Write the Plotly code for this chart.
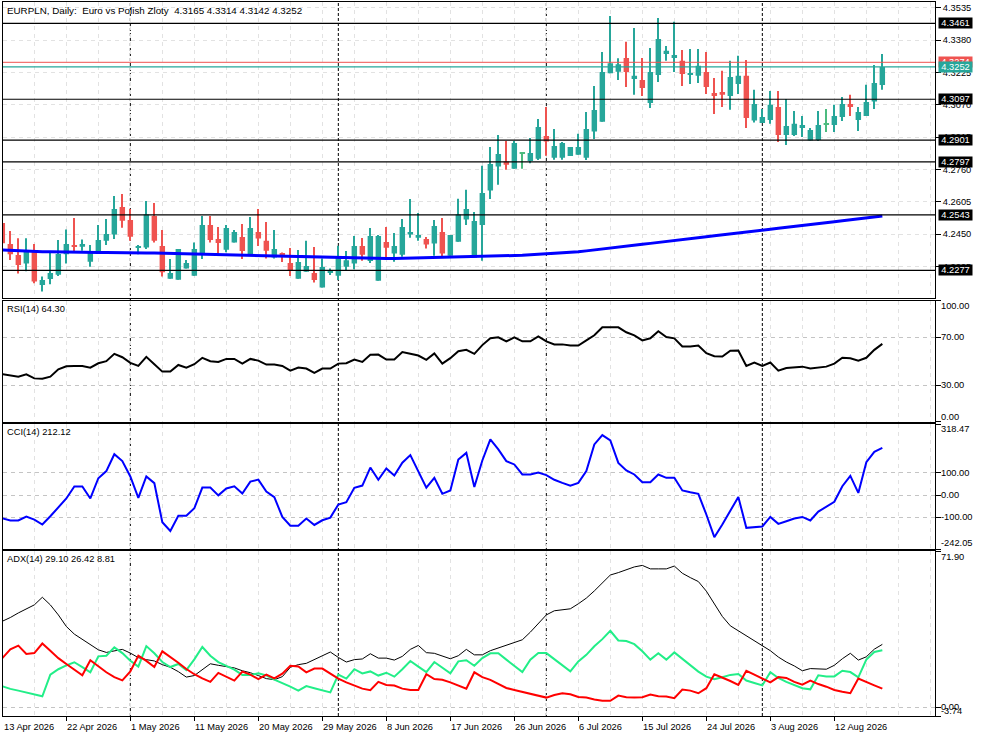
import plotly.graph_objects as go

# ---------------- data ----------------
date_tick_labels = ["13 Apr 2026", "22 Apr 2026", "1 May 2026", "11 May 2026", "20 May 2026",
                    "29 May 2026", "8 Jun 2026", "17 Jun 2026", "26 Jun 2026", "6 Jul 2026",
                    "15 Jul 2026", "24 Jul 2026", "3 Aug 2026", "12 Aug 2026"]
date_tick_bars = [0, 8, 16, 24, 32, 40, 48, 56, 64, 72, 80, 88, 96, 104]
month_start_bars = [16, 42, 68, 95]

open_ = [4.2504, 4.2403, 4.2350, 4.2309, 4.2366, 4.2207, 4.2235, 4.2255, 4.2354, 4.2398,
         4.2390, 4.2318, 4.2363, 4.2419, 4.2448, 4.2580, 4.2518, 4.2386, 4.2386, 4.2537,
         4.2394, 4.2237, 4.2232, 4.2285, 4.2251, 4.2354, 4.2494, 4.2427, 4.2376, 4.2410,
         4.2437, 4.2355, 4.2461, 4.2418, 4.2338, 4.2360, 4.2312, 4.2237, 4.2270, 4.2264,
         4.2194, 4.2266, 4.2251, 4.2294, 4.2309, 4.2393, 4.2321, 4.2227, 4.2413, 4.2357,
         4.2352, 4.2448, 4.2433, 4.2427, 4.2405, 4.2461, 4.2347, 4.2414, 4.2520, 4.2337,
         4.2494, 4.2659, 4.2774, 4.2798, 4.2764, 4.2838, 4.2801, 4.2812, 4.2921, 4.2817,
         4.2817, 4.2825, 4.2831, 4.2817, 4.2942, 4.2989, 4.3222, 4.3229, 4.3295, 4.3194,
         4.3189, 4.3079, 4.3213, 4.3314, 4.3295, 4.3281, 4.3213, 4.3209, 4.3228, 4.3127,
         4.3132, 4.3113, 4.3170, 4.3209, 4.2995, 4.2983, 4.2998, 4.3060, 4.2926, 4.2926,
         4.2959, 4.2899, 4.2902, 4.2979, 4.2974, 4.3012, 4.3074, 4.2998, 4.3017, 4.3086,
         4.3165]
high = [4.2512, 4.2465, 4.2430, 4.2430, 4.2403, 4.2247, 4.2363, 4.2422, 4.2473, 4.2528,
        4.2425, 4.2398, 4.2494, 4.2523, 4.2633, 4.2643, 4.2571, 4.2398, 4.2609, 4.2600,
        4.2470, 4.2331, 4.2379, 4.2326, 4.2410, 4.2537, 4.2537, 4.2485, 4.2494, 4.2470,
        4.2499, 4.2533, 4.2571, 4.2509, 4.2470, 4.2362, 4.2384, 4.2374, 4.2418, 4.2389,
        4.2333, 4.2286, 4.2395, 4.2369, 4.2441, 4.2432, 4.2480, 4.2446, 4.2485, 4.2456,
        4.2523, 4.2619, 4.2552, 4.2437, 4.2518, 4.2528, 4.2446, 4.2620, 4.2663, 4.2556,
        4.2778, 4.2868, 4.2926, 4.2897, 4.2897, 4.2840, 4.2911, 4.3002, 4.3060, 4.2954,
        4.2892, 4.2868, 4.2932, 4.3036, 4.3161, 4.3324, 4.3496, 4.3294, 4.3372, 4.3439,
        4.3295, 4.3343, 4.3487, 4.3352, 4.3468, 4.3333, 4.3338, 4.3338, 4.3324, 4.3199,
        4.3233, 4.3281, 4.3305, 4.3285, 4.3142, 4.3050, 4.3137, 4.3137, 4.3098, 4.3041,
        4.3017, 4.2959, 4.3041, 4.3050, 4.3070, 4.3108, 4.3118, 4.3060, 4.3166, 4.3261,
        4.3314]
low = [4.2400, 4.2326, 4.2262, 4.2272, 4.2215, 4.2175, 4.2210, 4.2250, 4.2309, 4.2366,
       4.2371, 4.2294, 4.2358, 4.2398, 4.2427, 4.2481, 4.2419, 4.2354, 4.2379, 4.2410,
       4.2247, 4.2237, 4.2232, 4.2285, 4.2251, 4.2331, 4.2410, 4.2354, 4.2363, 4.2410,
       4.2331, 4.2350, 4.2394, 4.2333, 4.2333, 4.2317, 4.2250, 4.2237, 4.2270, 4.2218,
       4.2194, 4.2254, 4.2230, 4.2275, 4.2282, 4.2323, 4.2312, 4.2227, 4.2337, 4.2318,
       4.2342, 4.2433, 4.2419, 4.2381, 4.2347, 4.2342, 4.2347, 4.2414, 4.2494, 4.2337,
       4.2323, 4.2619, 4.2687, 4.2759, 4.2764, 4.2764, 4.2790, 4.2806, 4.2826, 4.2807,
       4.2807, 4.2825, 4.2831, 4.2806, 4.2906, 4.2989, 4.3222, 4.3189, 4.3156, 4.3118,
       4.3113, 4.3055, 4.3180, 4.3281, 4.3228, 4.3161, 4.3170, 4.3175, 4.3122, 4.3026,
       4.3060, 4.3046, 4.3122, 4.2959, 4.2985, 4.2983, 4.2979, 4.2892, 4.2878, 4.2921,
       4.2916, 4.2899, 4.2897, 4.2940, 4.2940, 4.2993, 4.3017, 4.2945, 4.3017, 4.3050,
       4.3142]
close = [4.2406, 4.2354, 4.2302, 4.2366, 4.2223, 4.2231, 4.2264, 4.2355, 4.2403, 4.2390,
         4.2403, 4.2360, 4.2422, 4.2451, 4.2571, 4.2515, 4.2438, 4.2389, 4.2544, 4.2418,
         4.2267, 4.2264, 4.2379, 4.2312, 4.2379, 4.2494, 4.2422, 4.2408, 4.2480, 4.2461,
         4.2370, 4.2480, 4.2429, 4.2371, 4.2379, 4.2346, 4.2277, 4.2317, 4.2298, 4.2231,
         4.2293, 4.2275, 4.2338, 4.2325, 4.2393, 4.2352, 4.2441, 4.2441, 4.2385, 4.2393,
         4.2485, 4.2461, 4.2446, 4.2400, 4.2489, 4.2357, 4.2446, 4.2544, 4.2571, 4.2513,
         4.2648, 4.2786, 4.2834, 4.2783, 4.2887, 4.2839, 4.2839, 4.2964, 4.2894, 4.2873,
         4.2887, 4.2868, 4.2868, 4.2954, 4.3045, 4.3227, 4.3270, 4.3265, 4.3228, 4.3209,
         4.3151, 4.3228, 4.3386, 4.3329, 4.3309, 4.3218, 4.3223, 4.3257, 4.3156, 4.3113,
         4.3118, 4.3204, 4.3209, 4.3007, 4.3074, 4.3012, 4.3070, 4.2926, 4.2969, 4.2979,
         4.2974, 4.2950, 4.2974, 4.2980, 4.3017, 4.3074, 4.3060, 4.3036, 4.3084, 4.3175,
         4.3252]
ma_line = [4.2374, 4.2372, 4.2371, 4.2370, 4.2368, 4.2366, 4.2366, 4.2365, 4.2363, 4.2362,
           4.2362, 4.2362, 4.2362, 4.2362, 4.2361, 4.2361, 4.2361, 4.2361, 4.2360, 4.2360,
           4.2359, 4.2357, 4.2357, 4.2356, 4.2356, 4.2355, 4.2354, 4.2353, 4.2353, 4.2352,
           4.2351, 4.2348, 4.2347, 4.2346, 4.2345, 4.2343, 4.2342, 4.2341, 4.2340, 4.2340,
           4.2338, 4.2337, 4.2337, 4.2336, 4.2334, 4.2333, 4.2333, 4.2333, 4.2333, 4.2333,
           4.2334, 4.2335, 4.2336, 4.2337, 4.2337, 4.2337, 4.2338, 4.2338, 4.2339, 4.2340,
           4.2341, 4.2342, 4.2343, 4.2345, 4.2347, 4.2349, 4.2351, 4.2353, 4.2356, 4.2358,
           4.2361, 4.2363, 4.2366, 4.2370, 4.2375, 4.2379, 4.2384, 4.2388, 4.2393, 4.2397,
           4.2402, 4.2406, 4.2411, 4.2415, 4.2420, 4.2424, 4.2429, 4.2433, 4.2438, 4.2442,
           4.2447, 4.2451, 4.2456, 4.2460, 4.2465, 4.2469, 4.2474, 4.2478, 4.2483, 4.2487,
           4.2492, 4.2496, 4.2501, 4.2505, 4.2510, 4.2514, 4.2519, 4.2523, 4.2528, 4.2532,
           4.2537]
level_lines = [4.3461, 4.3097, 4.2901, 4.2797, 4.2543, 4.2277]
ask_price = 4.3274
bid_price = 4.3252
price_ticks = [4.2295, 4.2450, 4.2605, 4.2760, 4.2915, 4.3070, 4.3225, 4.3380, 4.3535]

rsi = [39.4, 38.3, 37.2, 39.1, 35.8, 35.5, 37.2, 43.3, 45.8, 46.1, 46.1, 44.7, 48.3, 50.0, 56.1,
       53.3, 48.6, 46.1, 53.6, 47.5, 41.4, 41.4, 46.9, 44.7, 47.5, 52.8, 50.0, 49.4, 51.9, 51.9,
       48.0, 51.9, 50.5, 47.2, 47.2, 46.1, 42.2, 44.7, 43.9, 40.3, 43.9, 43.9, 48.0, 48.3, 51.4,
       49.4, 55.3, 55.5, 51.4, 51.4, 57.5, 56.1, 54.7, 51.1, 56.4, 48.0, 52.5, 58.3, 59.4, 56.1,
       63.3, 68.9, 69.7, 66.4, 69.7, 66.4, 66.4, 70.5, 66.4, 63.9, 63.9, 63.0, 63.0, 67.2, 71.4,
       78.0, 78.0, 78.0, 73.9, 71.4, 67.2, 68.9, 74.7, 70.0, 68.9, 62.2, 62.2, 63.0, 56.6, 54.1,
       53.9, 58.6, 58.9, 46.1, 48.9, 46.1, 48.9, 42.2, 44.4, 44.7, 45.5, 43.9, 44.7, 45.5, 48.0,
       52.8, 52.5, 50.5, 52.8, 59.4, 64.30]
cci = [-104, -114, -114, -96, -110, -132, -95, -54, -15, 39, 39, -15, 76, 108, 184,
       153, 84, -12, 84, 54, -122, -161, -93, -93, -59, 34, 34, -1, 30, 40,
       7, 61, 70, 16, -9, -98, -137, -137, -105, -134, -113, -101, -42, -32, 33,
       43, 124, 69, 120, 88, 146, 180, 108, 34, 78, 6, 21, 160, 190, 37,
       156, 251, 206, 153, 138, 93, 93, 102, 90, 69, 55, 42, 55, 108, 228,
       270, 246, 145, 111, 93, 58, 58, 93, 78, 78, 21, 13, 6, -87, -189,
       -132, -68, -8, -147, -144, -141, -98, -129, -117, -105, -98, -114, -74, -51, -30,
       40, 87, 10, 148, 195, 212.12]
adx = [39.7, 41.4, 43.5, 45.5, 47.2, 50.7, 47.2, 42.6, 37.3, 33.8, 31.4, 29.4, 26.6, 25.4, 26.2,
       26.8, 25.1, 23.0, 22.1, 21.5, 19.8, 18.6, 16.6, 14.1, 14.8, 17.6, 20.2, 19.5, 19.0, 18.3,
       17.0, 16.1, 14.8, 13.4, 12.9, 14.3, 18.6, 19.8, 20.4, 22.1, 24.0, 25.6, 23.1, 21.0, 22.1,
       22.4, 24.8, 22.8, 22.8, 21.9, 23.6, 26.8, 28.6, 25.3, 25.0, 23.9, 22.5, 23.9, 26.8, 24.3,
       24.3, 26.2, 27.5, 28.9, 30.1, 31.2, 34.7, 38.7, 42.6, 44.5, 44.9, 45.4, 47.7, 50.3, 53.6,
       57.4, 60.9, 62.0, 63.2, 64.6, 65.3, 63.7, 63.7, 63.7, 65.0, 61.7, 59.7, 57.9, 53.5, 47.5,
       41.9, 37.6, 35.3, 33.2, 30.8, 28.2, 26.2, 23.3, 21.0, 19.2, 17.0, 18.0, 17.7, 17.7, 19.5,
       22.5, 25.0, 21.9, 23.4, 26.9, 29.10]
plus_di = [9.9, 8.7, 7.9, 7.1, 6.4, 5.3, 15.2, 17.7, 19.5, 20.9, 18.7, 16.3, 23.6, 23.9, 27.7,
           25.1, 21.6, 18.9, 28.3, 25.0, 21.0, 18.7, 20.1, 17.3, 22.2, 27.9, 23.9, 21.0, 19.2, 17.5,
           15.1, 15.1, 15.8, 14.9, 12.9, 11.4, 9.7, 7.9, 10.0, 9.0, 8.2, 7.1, 15.2, 13.4, 17.7,
           15.8, 16.7, 14.8, 16.1, 14.3, 17.7, 21.5, 18.9, 16.4, 21.0, 18.6, 15.8, 21.3, 21.8, 19.3,
           22.8, 25.0, 25.0, 22.1, 19.3, 16.4, 22.1, 25.1, 25.1, 22.4, 19.3, 16.7, 21.3, 24.3, 28.2,
           31.5, 35.3, 30.9, 30.6, 29.2, 25.9, 22.1, 25.0, 22.1, 25.4, 22.4, 19.5, 16.6, 14.3, 13.1,
           14.0, 15.1, 15.5, 12.5, 11.4, 10.3, 16.3, 13.7, 11.9, 10.3, 9.0, 8.5, 14.9, 14.4, 14.4,
           17.0, 16.4, 14.0, 22.1, 25.6, 26.42]
minus_di = [22.8, 26.8, 28.5, 24.7, 25.1, 29.5, 26.2, 22.8, 20.1, 17.7, 14.9, 21.8, 18.9, 16.3, 14.1,
            12.6, 16.7, 23.9, 21.5, 18.7, 25.9, 23.4, 20.7, 17.8, 15.4, 13.5, 11.9, 16.0, 14.1, 12.5,
            16.6, 15.2, 13.2, 15.2, 13.5, 15.7, 19.3, 19.0, 16.3, 18.0, 18.0, 15.8, 13.4, 11.7, 10.2,
            8.8, 8.1, 11.9, 10.5, 10.2, 8.8, 8.2, 8.2, 15.4, 13.2, 12.9, 11.7, 10.2, 8.8, 16.3,
            14.1, 12.8, 11.1, 9.1, 8.2, 7.3, 6.4, 5.5, 4.7, 5.9, 6.7, 6.2, 5.0, 4.7, 3.8,
            3.3, 3.2, 5.6, 4.9, 4.7, 4.9, 6.1, 5.3, 5.2, 4.4, 8.4, 7.9, 6.7, 9.0, 15.4,
            14.0, 12.3, 10.5, 17.0, 15.2, 13.4, 11.7, 14.1, 13.7, 11.9, 10.6, 12.5, 10.9, 9.7, 8.2,
            7.4, 6.7, 13.4, 12.0, 10.3, 8.81]

rsi_levels = [0, 30, 70, 100]
cci_min, cci_max = -242.05, 318.47
cci_levels = [-100, 0, 100]
adx_min, adx_max = -3.74, 71.90

# ---------------- styling ----------------
BULL = "#26a69a"
BEAR = "#ef5350"
DOJI = "#4cbb7f"
FONT = "Liberation Sans, Arial, sans-serif"
FS = 9.3
GRID = "#e2e2e2"
LEVEL_GRID = "#c4c4c4"

n = len(close)
xs = list(range(n))

body_base, body_h, colors = [], [], []
for o, c in zip(open_, close):
    lo_b, hi_b = min(o, c), max(o, c)
    h = max(hi_b - lo_b, 0.0005)
    body_base.append(lo_b if hi_b - lo_b >= 0.0005 else (o + c) / 2 - 0.00025)
    body_h.append(h)
    if abs(c - o) < 0.00015:
        colors.append(DOJI)
    elif c >= o:
        colors.append(BULL)
    else:
        colors.append(BEAR)
wick_h = [h - l for h, l in zip(high, low)]

fig = go.Figure()
fig.add_trace(go.Bar(x=xs, y=wick_h, base=low, width=0.14, marker=dict(color=colors, line=dict(width=0)),
                     xaxis="x", yaxis="y", hoverinfo="skip"))
fig.add_trace(go.Bar(x=xs, y=body_h, base=body_base, width=0.68, marker=dict(color=colors, line=dict(width=0)),
                     xaxis="x", yaxis="y", hoverinfo="skip"))
fig.add_trace(go.Scatter(x=xs, y=ma_line, mode="lines", line=dict(color="#0000ff", width=3),
                         xaxis="x", yaxis="y"))
fig.add_trace(go.Scatter(x=xs, y=rsi, mode="lines", line=dict(color="black", width=2),
                         xaxis="x2", yaxis="y2"))
fig.add_trace(go.Scatter(x=xs, y=cci, mode="lines", line=dict(color="#0000ff", width=2),
                         xaxis="x3", yaxis="y3"))
fig.add_trace(go.Scatter(x=xs, y=adx, mode="lines", line=dict(color="black", width=1),
                         xaxis="x4", yaxis="y4"))
fig.add_trace(go.Scatter(x=xs, y=plus_di, mode="lines", line=dict(color="#22ee88", width=2),
                         xaxis="x4", yaxis="y4"))
fig.add_trace(go.Scatter(x=xs, y=minus_di, mode="lines", line=dict(color="#ff0000", width=2),
                         xaxis="x4", yaxis="y4"))

# ---------------- layout ----------------
W, H = 983, 737
ML, MR, MT, MB = 3, 48, 2, 21
plot_h = H - MT - MB


def frac(px):
    return (H - MB - px) / plot_h


dom_price = [frac(297.7), 1.0]
dom_rsi = [frac(421.7), frac(300.7)]
dom_cci = [frac(549.0), frac(424.3)]
dom_adx = [0.0, frac(551.0)]

x_lo = (3 - 2.33) / 8.0
x_hi = (935 - 2.33) / 8.0
xrange_ = [x_lo, x_hi]
grid_dash = "4px,4px"


def xaxis_common(anchor, bottom=False):
    d = dict(domain=[0, 1], range=xrange_, anchor=anchor, showline=True, linecolor="black",
             linewidth=1, mirror=True, zeroline=False, showgrid=True, gridcolor=GRID,
             griddash=grid_dash, gridwidth=1, fixedrange=True)
    if bottom:
        d.update(tickmode="array", tickvals=date_tick_bars, ticktext=[""] * len(date_tick_bars),
                 ticks="outside", ticklen=4, tickcolor="black",
                 minor=dict(tickmode="linear", tick0=0, dtick=4, showgrid=True, gridcolor=GRID,
                            griddash=grid_dash, ticks=""))
    else:
        d.update(tickmode="linear", tick0=0, dtick=4, showticklabels=False, ticks="")
    return d


def yaxis_common(domain, rng, anchor):
    return dict(domain=domain, range=rng, anchor=anchor, side="right", showline=True,
                linecolor="black", linewidth=1, mirror=True, zeroline=False, ticks="outside",
                ticklen=5, tickcolor="black", fixedrange=True,
                tickfont=dict(family=FONT, size=FS, color="black"))


price_range = [4.3461 - (297.7 - 23.3) / 2086, 4.3461 + (23.3 - 2.0) / 2086]

layout = dict(
    width=W, height=H, margin=dict(l=ML, r=MR, t=MT, b=MB), paper_bgcolor="white",
    plot_bgcolor="white", showlegend=False, barmode="overlay",
    font=dict(family=FONT, size=FS, color="black"),
    xaxis=xaxis_common("y"), xaxis2=xaxis_common("y2"), xaxis3=xaxis_common("y3"),
    xaxis4=xaxis_common("y4", bottom=True),
)
ya = yaxis_common(dom_price, price_range, "x")
ya.update(tickmode="array", tickvals=price_ticks, ticktext=[f"{v:.4f}" for v in price_ticks],
          showgrid=True, gridcolor=GRID, griddash=grid_dash)
layout["yaxis"] = ya
ya2 = yaxis_common(dom_rsi, [0, 100], "x2")
ya2.update(tickmode="array", tickvals=rsi_levels, showticklabels=False, showgrid=True,
           gridcolor=LEVEL_GRID, griddash=grid_dash)
layout["yaxis2"] = ya2
ya3 = yaxis_common(dom_cci, [cci_min, cci_max], "x3")
ya3.update(tickmode="array", tickvals=[cci_min] + cci_levels + [cci_max], showticklabels=False,
           showgrid=True, gridcolor=LEVEL_GRID, griddash=grid_dash)
layout["yaxis3"] = ya3
ya4 = yaxis_common(dom_adx, [adx_min, adx_max], "x4")
ya4.update(tickmode="array", tickvals=[adx_min, 0, adx_max], showticklabels=False, showgrid=True,
           gridcolor=LEVEL_GRID, griddash=grid_dash)
layout["yaxis4"] = ya4
fig.update_layout(**layout)

shapes = []
# month separators
for b in month_start_bars:
    shapes.append(dict(type="line", xref="x", yref="paper", x0=b, x1=b, y0=0, y1=1,
                       line=dict(color="black", width=1, dash="3px,2px"), layer="below"))
# horizontal levels
for lv in level_lines:
    shapes.append(dict(type="line", xref="x", yref="y", x0=x_lo, x1=x_hi, y0=lv, y1=lv,
                       line=dict(color="black", width=1.2)))
shapes.append(dict(type="line", xref="x", yref="y", x0=x_lo, x1=x_hi, y0=ask_price, y1=ask_price,
                   line=dict(color=BEAR, width=1)))
shapes.append(dict(type="line", xref="x", yref="y", x0=x_lo, x1=x_hi, y0=bid_price, y1=bid_price,
                   line=dict(color=BULL, width=1.2)))
fig.update_layout(shapes=shapes)

ann = []


def label_box(val, bg, yref="y"):
    return dict(xref="paper", x=1, xanchor="left", xshift=3, yref=yref, y=val, yanchor="middle",
                text=f"{val:.4f}", showarrow=False, bgcolor=bg, width=33, height=10,
                borderpad=0, font=dict(family=FONT, size=FS, color="white"))


for lv in level_lines:
    ann.append(label_box(lv, "black"))
ann.append(label_box(ask_price, BEAR))
ann.append(label_box(bid_price, BULL))


def right_label(text, yref, y, yshift=0):
    return dict(xref="paper", x=1, xanchor="left", xshift=4, yref=yref, y=y, yanchor="middle",
                yshift=yshift, text=text, showarrow=False, font=dict(family=FONT, size=FS, color="black"))


ann += [
    right_label("100.00", "y2", 100, -5), right_label("70.00", "y2", 70),
    right_label("30.00", "y2", 30), right_label("0.00", "y2", 0, 5),
    right_label(f"{cci_max:.2f}", "y3", cci_max, -5), right_label("100.00", "y3", 100),
    right_label("0.00", "y3", 0), right_label("-100.00", "y3", -100),
    right_label(f"{cci_min:.2f}", "y3", cci_min, 6),
    right_label(f"{adx_max:.2f}", "y4", adx_max, -6), right_label("0.00", "y4", 0, 1),
    right_label(f"{adx_min:.2f}", "y4", adx_min, 5),
]


def title_label(text, dom_top, size=FS):
    return dict(xref="paper", x=0, xanchor="left", xshift=2, yref="paper", y=dom_top,
                yanchor="top", yshift=-1, text=text, showarrow=False,
                font=dict(family=FONT, size=size, color="black"))


ann.append(title_label("EURPLN, Daily:\u00a0\u00a0Euro vs Polish Zloty\u00a0\u00a0"
                       f"{open_[-1]:.4f} {high[-1]:.4f} {low[-1]:.4f} {close[-1]:.4f}", 1.0, 9.8))
ann.append(title_label(f"RSI(14) {rsi[-1]:.2f}", dom_rsi[1]))
ann.append(title_label(f"CCI(14) {cci[-1]:.2f}", dom_cci[1]))
ann.append(title_label(f"ADX(14) {adx[-1]:.2f} {plus_di[-1]:.2f} {minus_di[-1]:.2f}", dom_adx[1]))

for b, t in zip(date_tick_bars, date_tick_labels):
    xb = max(b, x_lo)
    ann.append(dict(xref="x4", x=xb, xanchor="left", xshift=-1, yref="paper", y=0, yanchor="top",
                    yshift=-4, text=t, showarrow=False, font=dict(family=FONT, size=FS, color="black")))

fig.update_layout(annotations=ann)
fig.write_html("out.html", config={"displayModeBar": False},
               post_script="document.body.style.margin='0px';document.body.style.overflow='hidden';")
